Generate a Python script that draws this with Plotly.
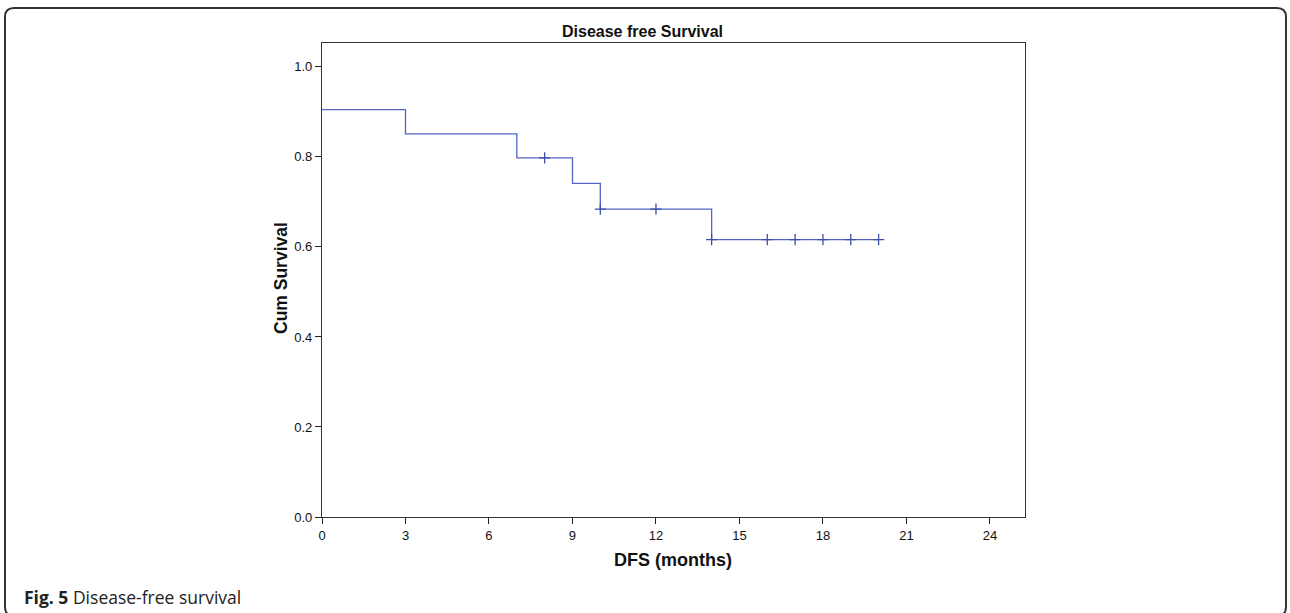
import plotly.graph_objects as go

# Kaplan-Meier step data (event/censor times and survival)
times = [0, 3, 7, 8, 9, 10, 12, 14, 16, 17, 18, 19, 20]
surv = [0.905, 0.851, 0.798, 0.798, 0.741, 0.684, 0.684, 0.616, 0.616, 0.616, 0.616, 0.616, 0.616]
censor_times = [8, 10, 12, 14, 16, 17, 18, 19, 20]
censor_surv = [0.798, 0.684, 0.684, 0.616, 0.616, 0.616, 0.616, 0.616, 0.616]
x_ticks = [0, 3, 6, 9, 12, 15, 18, 21, 24]
y_ticks = [0.0, 0.2, 0.4, 0.6, 0.8, 1.0]
y_tick_labels = ["0.0", "0.2", "0.4", "0.6", "0.8", "1.0"]

W, H = 1290, 613
L, R, T, B = 322, 1025, 43, 517
PW, PH = R - L, B - T

def px(x):
    return (x - L) / PW

def py(y):
    return (B - y) / PH

LINE = "#5366c6"
fig = go.Figure()
fig.add_trace(go.Scatter(x=times, y=surv, mode="lines", line=dict(color=LINE, width=1.3, shape="hv"),
                         showlegend=False, hoverinfo="skip"))
fig.add_trace(go.Scatter(x=censor_times, y=censor_surv, mode="markers",
                         marker=dict(symbol="cross-thin", size=8, line=dict(color="#3d4fa8", width=1.3)),
                         showlegend=False, hoverinfo="skip"))

axis_font = dict(family="Liberation Sans, Arial, sans-serif", size=13, color="#111")
fig.update_xaxes(range=[0, 25.26], tickvals=x_ticks, ticks="outside", ticklen=6, tickcolor="#222",
                 showgrid=False, zeroline=False, showline=True, linecolor="#333", linewidth=1.2,
                 mirror=True, tickfont=axis_font)
fig.update_yaxes(range=[0, 1.053], tickvals=y_ticks, ticktext=y_tick_labels,
                 ticks="outside", ticklen=6, tickcolor="#222",
                 showgrid=False, zeroline=False, showline=True, linecolor="#333", linewidth=1.2,
                 mirror=True, tickfont=axis_font)

# rounded outer border
x0, x1, y0, y1, r = 5, 1286, 8, 616, 9
path = (f"M {px(x0+r)},{py(y0)} L {px(x1-r)},{py(y0)} Q {px(x1)},{py(y0)} {px(x1)},{py(y0+r)} "
        f"L {px(x1)},{py(y1-r)} Q {px(x1)},{py(y1)} {px(x1-r)},{py(y1)} "
        f"L {px(x0+r)},{py(y1)} Q {px(x0)},{py(y1)} {px(x0)},{py(y1-r)} "
        f"L {px(x0)},{py(y0+r)} Q {px(x0)},{py(y0)} {px(x0+r)},{py(y0)} Z")
fig.add_shape(type="path", path=path, xref="paper", yref="paper",
              line=dict(color="#333", width=2), layer="below")

annotations = [
    dict(text="<b>Disease free Survival</b>", x=px(642), y=py(31), xref="paper", yref="paper",
         showarrow=False, xanchor="center", yanchor="middle",
         font=dict(family="Liberation Sans, Arial, sans-serif", size=16, color="#111")),
    dict(text="<b>Cum Survival</b>", x=px(281), y=py(278), xref="paper", yref="paper",
         showarrow=False, xanchor="center", yanchor="middle", textangle=-90,
         font=dict(family="Liberation Sans, Arial, sans-serif", size=17.5, color="#111")),
    dict(text="<b>DFS (months)</b>", x=px(673), y=py(560), xref="paper", yref="paper",
         showarrow=False, xanchor="center", yanchor="middle",
         font=dict(family="Liberation Sans, Arial, sans-serif", size=18, color="#111")),
    dict(text="<b>Fig. 5</b> Disease-free survival", x=px(22), y=py(597), xref="paper", yref="paper",
         showarrow=False, xanchor="left", yanchor="middle",
         font=dict(family="Open Sans, Noto Sans, sans-serif", size=17.5, color="#222")),
]

fig.update_layout(width=W, height=H, margin=dict(l=L, r=W - R, t=T, b=H - B),
                  paper_bgcolor="white", plot_bgcolor="white", annotations=annotations)

fig.write_html("out.html", config={"displayModeBar": False},
               post_script="document.body.style.margin='0';document.body.style.padding='0';")
